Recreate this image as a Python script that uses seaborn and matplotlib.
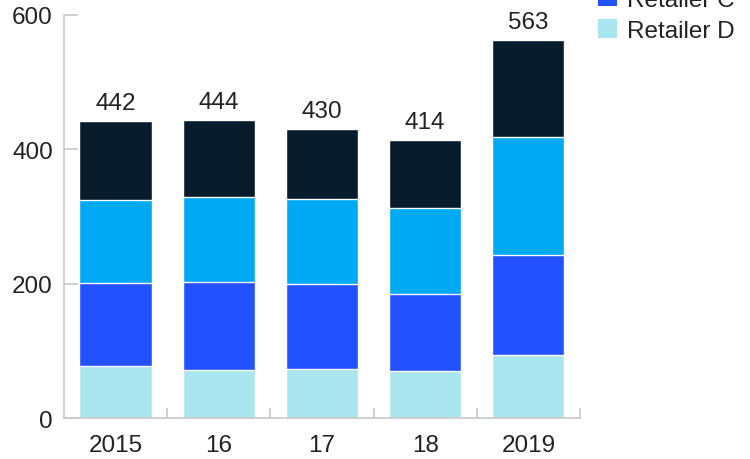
import matplotlib
matplotlib.use("Agg")
import matplotlib.pyplot as plt
from matplotlib.patches import Patch
from matplotlib.ticker import FixedLocator
import numpy as np
import pandas as pd
import seaborn as sns

# Sales by retailer, stacked from D (bottom) to A (top)
years = ["2015", "16", "17", "18", "2019"]
retailer_a = [118, 115, 104, 102, 145]
retailer_b = [123, 126, 126, 127, 175]
retailer_c = [124, 131, 126, 114, 149]
retailer_d = [77, 72, 74, 71, 94]
series_names = ["Retailer A", "Retailer B", "Retailer C", "Retailer D"]
series_colors = ["#061c2c", "#00a9f4", "#2251ff", "#aae6f0"]
y_ticks = [0, 200, 400, 600]

sns.set_theme(style="white")
plt.rcParams["font.family"] = ["Liberation Sans", "DejaVu Sans"]
FS = 17.5

df = pd.DataFrame({
    "year": years,
    "Retailer A": retailer_a,
    "Retailer B": retailer_b,
    "Retailer C": retailer_c,
    "Retailer D": retailer_d,
})

fig = plt.figure(figsize=(7.5, 4.6), dpi=100)
ax = fig.add_axes([0.0853, 0.0885, 0.6880, 0.8774])

# cumulative heights, drawn tallest first so each layer sits on top
stack_order = ["Retailer D", "Retailer C", "Retailer B", "Retailer A"]
cum = df[stack_order].cumsum(axis=1)
for name in series_names:  # A (full total) first, D last
    color = series_colors[series_names.index(name)]
    sns.barplot(x=df["year"], y=cum[name], color=color, width=0.7,
                edgecolor="white", linewidth=1.0, ax=ax, saturation=1)

totals = cum["Retailer A"].values
for i, t in enumerate(totals):
    ax.annotate(f"{t:d}", (i, t), xytext=(0, 5), textcoords="offset points",
                ha="center", va="bottom", fontsize=FS, color="#222222")

ax.set_xlim(-0.5, 4.5)
ax.set_ylim(0, 600)
ax.set_yticks(y_ticks)
ax.set_xlabel("")
ax.set_ylabel("")

spine_color = "#c8c8c8"
for side in ["top", "right"]:
    ax.spines[side].set_visible(False)
for side in ["left", "bottom"]:
    ax.spines[side].set_color(spine_color)
    ax.spines[side].set_linewidth(1.2)

ax.tick_params(axis="y", direction="in", length=10, width=1.2, color=spine_color,
               labelsize=FS, labelcolor="#222222", pad=8, left=True)
ax.tick_params(axis="x", which="major", length=0, labelsize=FS,
               labelcolor="#222222", pad=11)
ax.xaxis.set_minor_locator(FixedLocator([0.5, 1.5, 2.5, 3.5, 4.5]))
ax.tick_params(axis="x", which="minor", direction="in", length=7, width=1.2,
               color=spine_color, bottom=True)

handles = [Patch(facecolor=c, edgecolor="none") for c in series_colors]
fig.legend(handles, series_names, loc="lower left",
           bbox_to_anchor=(0.797, 0.907), frameon=False, fontsize=FS,
           handlelength=0.8, handleheight=0.8, handletextpad=0.42,
           labelspacing=0.35, borderpad=0, borderaxespad=0,
           labelcolor="#222222")

fig.savefig("out.png", dpi=100)
